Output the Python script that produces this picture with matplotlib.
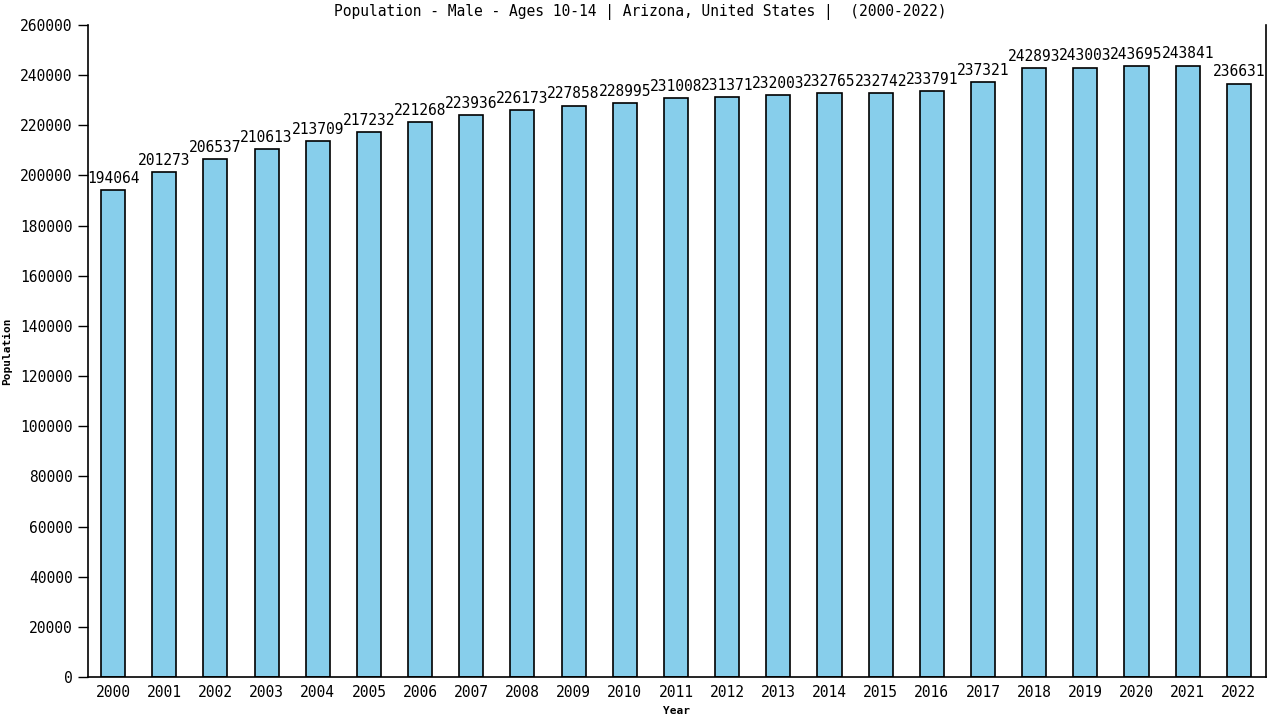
import matplotlib
matplotlib.use("Agg")
import matplotlib.pyplot as plt
import numpy as np

YEARS = [str(y) for y in range(2000, 2023)]
POPULATION = [194064, 201273, 206537, 210613, 213709, 217232, 221268, 223936,
              226173, 227858, 228995, 231008, 231371, 232003, 232765, 232742,
              233791, 237321, 242893, 243003, 243695, 243841, 236631]
YTICKS = list(range(0, 260001, 20000))

BAR = "#87ceeb"

plt.rcParams["font.family"] = "DejaVu Sans Mono"

fig = plt.figure(figsize=(12.8, 7.2), dpi=100)
ax = fig.add_axes([0.06875, 0.0597, 0.9203, 0.9056])

x = np.arange(len(YEARS))
ax.bar(x, POPULATION, width=0.47, color=BAR, edgecolor="black", linewidth=1.2, zorder=2)
for xi, v in zip(x, POPULATION):
    ax.annotate(str(v), (xi, v), xytext=(0, 3), textcoords="offset points",
                ha="center", va="bottom", fontsize=10.5)

ax.set_xlim(-0.49, 22.53)
ax.set_ylim(0, 260000)
ax.set_yticks(YTICKS)
ax.set_yticklabels([str(t) for t in YTICKS], fontsize=10.5)
ax.set_xticks(x)
ax.set_xticklabels(YEARS, fontsize=10.5)
ax.tick_params(axis="y", length=7, width=1, pad=4)
ax.tick_params(axis="x", length=0, pad=6)
ax.spines["top"].set_visible(False)
for s in ["left", "right", "bottom"]:
    ax.spines[s].set_linewidth(1.2)

ax.set_ylabel("Population", fontsize=8, fontweight="bold", labelpad=6)
ax.set_xlabel("Year", fontsize=8, fontweight="bold", labelpad=4)
fig.suptitle("Population - Male - Ages 10-14 | Arizona, United States |  (2000-2022)",
             fontsize=10.5, y=0.995, va="top")

fig.savefig("out.png", dpi=100)
